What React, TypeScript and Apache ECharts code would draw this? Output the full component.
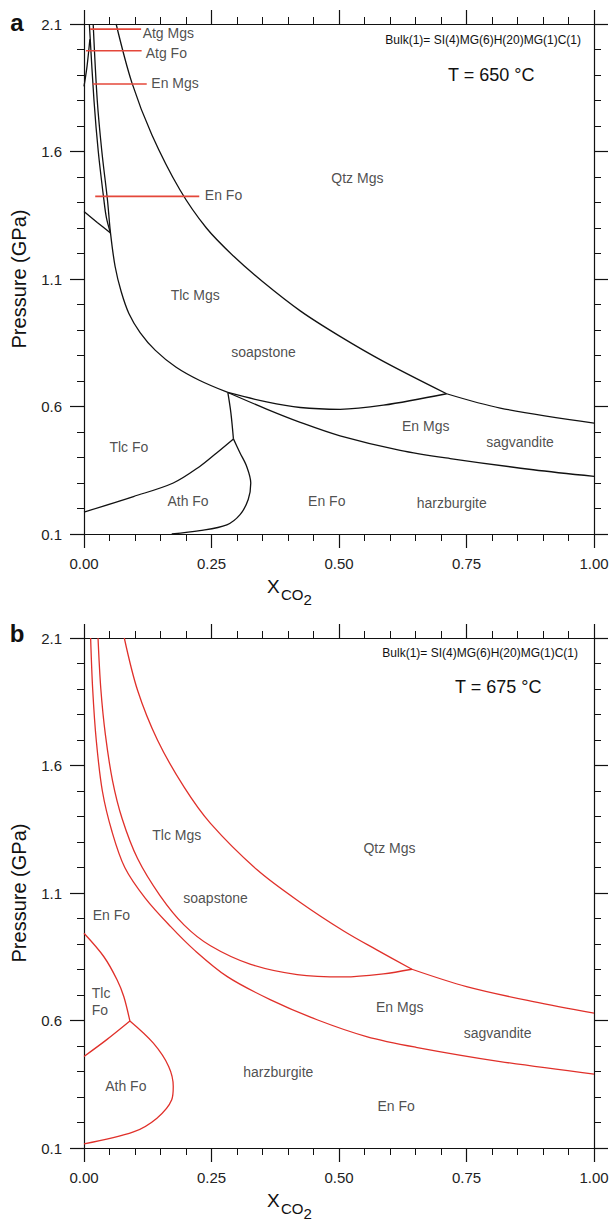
import React, { useEffect, useRef } from "react";
import * as echarts from "echarts";

const FONT = '"Liberation Sans", Arial, Helvetica, sans-serif';
const BLACK = "#111111";
const RED = "#e0302a";
const LEAD = "#e4473a";

// ---------- ticks ----------
const xTicks = [0, 0.25, 0.5, 0.75, 1.0];
const yTicks = [0.1, 0.6, 1.1, 1.6, 2.1];

// ---------- panel a (T = 650 °C), black phase boundaries ----------
const aTlcFoAthFo = [[0, 0.186], [0.097, 0.247], [0.175, 0.3], [0.227, 0.365], [0.26, 0.418], [0.293, 0.473]];
const aAthFoEnFo = [[0.293, 0.473], [0.306, 0.418], [0.319, 0.365], [0.327, 0.3], [0.322, 0.235], [0.306, 0.176], [0.28, 0.136], [0.227, 0.113], [0.172, 0.1]];
const aTlcFoEnFo = [[0.293, 0.473], [0.288, 0.575], [0.282, 0.655]];
const aTlcOuter = [[0.282, 0.655], [0.227, 0.702], [0.18, 0.755], [0.14, 0.82], [0.11, 0.89], [0.088, 0.965], [0.073, 1.05], [0.061, 1.149], [0.052, 1.28], [0.046, 1.41], [0.035, 1.6], [0.026, 1.8], [0.018, 2.1]];
const aPairLeft = [[0.052, 1.28], [0.044, 1.34], [0.039, 1.41], [0.028, 1.6], [0.0196, 1.8], [0.0105, 2.1]];
const aLeftLow = [[0, 1.365], [0.026, 1.322], [0.052, 1.28]];
const aLeftHigh = [[0, 1.855], [0.006, 1.935], [0.0115, 2.04]];
const aQtzUpper = [[0.063, 2.1], [0.094, 1.869], [0.133, 1.666], [0.188, 1.45], [0.24, 1.3], [0.293, 1.19], [0.35, 1.09], [0.424, 0.975], [0.502, 0.875], [0.587, 0.777], [0.711, 0.65]];
const aQtzRight = [[0.711, 0.65], [0.816, 0.594], [1.0, 0.535]];
const aSoapLower = [[0.282, 0.655], [0.358, 0.618], [0.424, 0.596], [0.502, 0.589], [0.587, 0.605], [0.711, 0.65]];
const aEnMgsLower = [[0.282, 0.655], [0.358, 0.59], [0.424, 0.538], [0.502, 0.485], [0.62, 0.428], [0.718, 0.396], [0.881, 0.352], [1.0, 0.326]];

// red leader lines in panel a
const aLeadAtgMgs = [[0.012, 2.08], [0.112, 2.08]];
const aLeadAtgFo = [[0.004, 1.995], [0.113, 1.995]];
const aLeadEnMgs = [[0.017, 1.865], [0.123, 1.865]];
const aLeadEnFo = [[0.022, 1.424], [0.226, 1.424]];

// field labels panel a (centre)
const aLabels = [
  { text: "Qtz Mgs", x: 0.536, y: 1.497 },
  { text: "Tlc Mgs", x: 0.218, y: 1.038 },
  { text: "soapstone", x: 0.352, y: 0.814 },
  { text: "Tlc Fo", x: 0.088, y: 0.441 },
  { text: "Ath Fo", x: 0.204, y: 0.228 },
  { text: "En Fo", x: 0.476, y: 0.228 },
  { text: "harzburgite", x: 0.721, y: 0.222 },
  { text: "En Mgs", x: 0.67, y: 0.522 },
  { text: "sagvandite", x: 0.855, y: 0.459 },
];
// leader labels panel a (left start)
const aLeadLabels = [
  { text: "Atg Mgs", x: 0.114, y: 2.066 },
  { text: "Atg Fo", x: 0.12, y: 1.987 },
  { text: "En Mgs", x: 0.131, y: 1.87 },
  { text: "En Fo", x: 0.236, y: 1.431 },
];

// ---------- panel b (T = 675 °C), red phase boundaries ----------
const b1 = [[0.013, 2.1], [0.017, 1.9], [0.024, 1.7], [0.036, 1.5], [0.055, 1.34], [0.08, 1.2], [0.12, 1.08], [0.17, 0.968], [0.216, 0.877], [0.281, 0.772], [0.366, 0.681], [0.457, 0.603], [0.554, 0.537], [0.651, 0.495], [0.816, 0.439], [1.0, 0.39]];
const b2 = [[0.0275, 2.1], [0.033, 1.9], [0.042, 1.72], [0.056, 1.54], [0.075, 1.39], [0.105, 1.235], [0.149, 1.09], [0.196, 0.975], [0.248, 0.893], [0.327, 0.82], [0.418, 0.78], [0.51, 0.771], [0.587, 0.783], [0.643, 0.801]];
const b3 = [[0.079, 2.1], [0.105, 1.895], [0.144, 1.7], [0.196, 1.516], [0.248, 1.373], [0.34, 1.19], [0.425, 1.062], [0.51, 0.95], [0.574, 0.877], [0.643, 0.801]];
const b3r = [[0.643, 0.801], [0.75, 0.733], [0.881, 0.674], [1.0, 0.629]];
const b4 = [[0, 0.942], [0.039, 0.85], [0.065, 0.759], [0.078, 0.694], [0.09, 0.598]];
const b5 = [[0, 0.459], [0.044, 0.524], [0.09, 0.598]];
const b6 = [[0.09, 0.598], [0.136, 0.511], [0.166, 0.42], [0.175, 0.341], [0.172, 0.289], [0.143, 0.217], [0.097, 0.163], [0, 0.116]];

const bLabels = [
  { text: "Tlc Mgs", x: 0.182, y: 1.327 },
  { text: "soapstone", x: 0.258, y: 1.079 },
  { text: "En Fo", x: 0.0536, y: 1.014 },
  { text: "Ath Fo", x: 0.082, y: 0.345 },
  { text: "harzburgite", x: 0.381, y: 0.398 },
  { text: "Qtz Mgs", x: 0.599, y: 1.275 },
  { text: "En Mgs", x: 0.619, y: 0.652 },
  { text: "sagvandite", x: 0.811, y: 0.55 },
  { text: "En Fo", x: 0.612, y: 0.263 },
];
const bLeftLabels = [{ text: "Tlc\nFo", x: 0.0143, y: 0.673 }];

// ---------- helpers ----------
const axisBase = {
  type: "value",
  axisLine: { show: true, onZero: false, lineStyle: { color: BLACK, width: 1.2 } },
  axisTick: { show: true, inside: false, length: 14, lineStyle: { color: BLACK, width: 1.2 } },
  minorTick: { show: true, splitNumber: 5, length: 7, lineStyle: { color: BLACK, width: 1 } },
  splitLine: { show: false },
  minorSplitLine: { show: false },
};

const labelStyle = { fontSize: 15, color: "#222", fontFamily: FONT };

function xAxes(g: number) {
  return [
    {
      ...axisBase, gridIndex: g, position: "bottom", min: xTicks[0], max: xTicks[xTicks.length - 1], interval: 0.25,
      axisLabel: { show: true, margin: 22, ...labelStyle, formatter: (v: number) => v.toFixed(2) },
    },
    {
      ...axisBase, gridIndex: g, position: "top", min: xTicks[0], max: xTicks[xTicks.length - 1], interval: 0.25,
      axisLabel: { show: false },
    },
  ];
}
function yAxes(g: number) {
  return [
    {
      ...axisBase, gridIndex: g, position: "left", min: yTicks[0], max: yTicks[yTicks.length - 1], interval: 0.5,
      axisLabel: { show: true, margin: 22, ...labelStyle, formatter: (v: number) => v.toFixed(1) },
    },
    {
      ...axisBase, gridIndex: g, position: "right", min: yTicks[0], max: yTicks[yTicks.length - 1], interval: 0.5,
      axisLabel: { show: false },
    },
  ];
}

function curve(data: number[][], axis: number, color: string, width = 1.3) {
  return {
    type: "line", xAxisIndex: axis, yAxisIndex: axis, data, showSymbol: false, symbol: "none",
    smooth: 0.33, silent: true, animation: false, lineStyle: { color, width },
  };
}
function straight(data: number[][], axis: number, color: string, width = 1.6) {
  return {
    type: "line", xAxisIndex: axis, yAxisIndex: axis, data, showSymbol: false, symbol: "none",
    smooth: false, silent: true, animation: false, lineStyle: { color, width },
  };
}
function labels(list: { text: string; x: number; y: number }[], axis: number, position: string) {
  return {
    type: "scatter", xAxisIndex: axis, yAxisIndex: axis, symbolSize: 1, silent: true, animation: false,
    itemStyle: { color: "rgba(0,0,0,0)" },
    data: list.map((l) => ({ name: l.text, value: [l.x, l.y] })),
    label: {
      show: true, position, distance: 0, formatter: "{b}", fontSize: 14, color: "#222",
      fontFamily: FONT, lineHeight: 17, align: position === "right" ? "left" : "center",
    },
  };
}

function txt(text: string, x: number, y: number, fontSize: number, align = "left", extra: any = {}) {
  return {
    type: "text", x, y, silent: true, ...extra,
    style: {
      text, fontSize, fontFamily: FONT, fill: "#111", fontWeight: extra.bold ? "bold" : "normal",
      align, verticalAlign: "middle", textAlign: align, textVerticalAlign: "middle",
    },
  };
}

function buildOption() {
  const off = 614;
  const graphic: any[] = [];
  [0, off].forEach((dy, i) => {
    graphic.push(txt(i === 0 ? "a" : "b", 17, 22 + dy - (i === 0 ? 0 : 3), 24, "center", { bold: true }));
    graphic.push(txt("Pressure (GPa)", 19, 279 + dy, 20, "center", { rotation: Math.PI / 2 }));
    graphic.push(txt("X", 267, 586.7 + dy, 19, "left"));
    graphic.push(txt("CO", 281, 594 + dy, 15, "left"));
    graphic.push(txt("2", 303.5, 599 + dy, 15, "left"));
  });
  graphic.push(txt("Bulk(1)= SI(4)MG(6)H(20)MG(1)C(1)", 581, 40, 12, "right"));
  graphic.push(txt("Bulk(1)= SI(4)MG(6)H(20)MG(1)C(1)", 578, 653, 12, "right"));
  graphic.push(txt("T = 650 °C", 448, 75, 18, "left"));
  graphic.push(txt("T = 675 °C", 455, 687, 18, "left"));

  // axis indices: x/y 0 = panel a (bottom/left), 1 = panel a (top/right), 2 = panel b, 3 = panel b
  const A = 0;
  const B = 2;
  const series: any[] = [
    curve(aTlcFoAthFo, A, BLACK),
    curve(aAthFoEnFo, A, BLACK),
    curve(aTlcFoEnFo, A, BLACK),
    curve(aTlcOuter, A, BLACK),
    curve(aPairLeft, A, BLACK),
    curve(aLeftLow, A, BLACK),
    curve(aLeftHigh, A, BLACK),
    curve(aQtzUpper, A, BLACK),
    curve(aQtzRight, A, BLACK),
    curve(aSoapLower, A, BLACK),
    curve(aEnMgsLower, A, BLACK),
    straight(aLeadAtgMgs, A, LEAD),
    straight(aLeadAtgFo, A, LEAD),
    straight(aLeadEnMgs, A, LEAD),
    straight(aLeadEnFo, A, LEAD),
    labels(aLabels, A, "inside"),
    labels(aLeadLabels, A, "right"),
    curve(b1, B, RED),
    curve(b2, B, RED),
    curve(b3, B, RED),
    curve(b3r, B, RED),
    curve(b4, B, RED),
    curve(b5, B, RED),
    curve(b6, B, RED),
    labels(bLabels, B, "inside"),
    labels(bLeftLabels, B, "right"),
  ];

  return {
    animation: false,
    backgroundColor: "#ffffff",
    grid: [
      { left: 84, top: 24, width: 510, height: 510 },
      { left: 84, top: 638, width: 510, height: 510 },
    ],
    xAxis: [...xAxes(0), ...xAxes(1)],
    yAxis: [...yAxes(0), ...yAxes(1)],
    series,
    graphic,
  };
}

export default function App() {
  const ref = useRef<HTMLDivElement>(null);
  useEffect(() => {
    if (!ref.current) return;
    const chart = echarts.init(ref.current, undefined, { renderer: "svg" });
    chart.setOption(buildOption() as any);
    return () => chart.dispose();
  }, []);
  return (
    <div
      ref={ref}
      style={{ position: "fixed", left: 0, top: 0, width: 612, height: 1220, background: "#fff" }}
    />
  );
}
